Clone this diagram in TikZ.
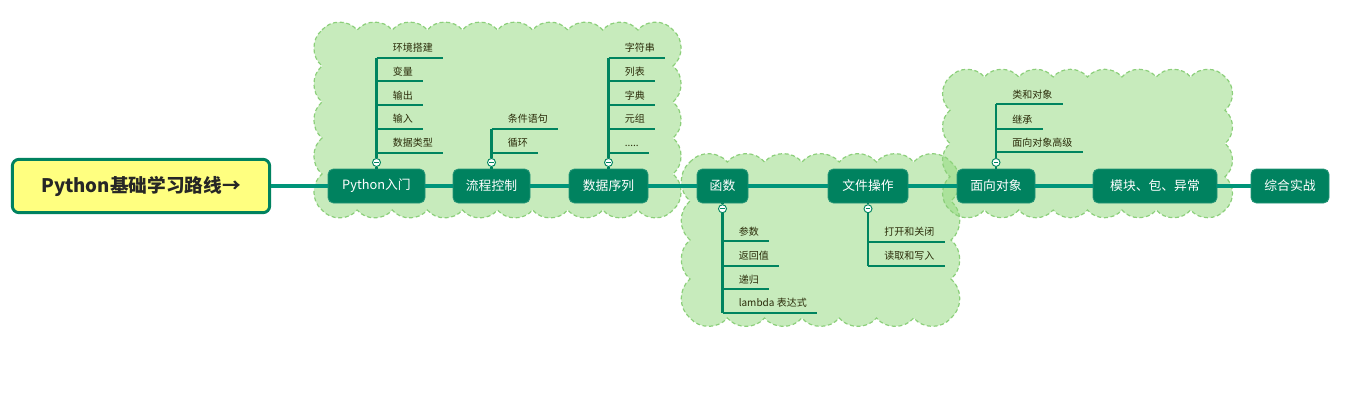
\documentclass[tikz,border=0pt]{standalone}
\usepackage{fontspec}
\setmainfont{Noto Sans CJK SC}
\definecolor{topic}{HTML}{00825F}
\definecolor{mainline}{HTML}{00957A}
\definecolor{branch}{HTML}{00845F}
\definecolor{rootfill}{HTML}{FFFF80}
\definecolor{cloudfill}{HTML}{8FD87A}
\definecolor{cloudline}{HTML}{8CCF7A}
\definecolor{leaftext}{HTML}{2A2A08}
\newcommand\leafitem[4]{%
  \coordinate (#1s) at (#2,#3);
  \node[leaf] (#1) at (#2+16,#3-6) {#4};
  \draw[uline] (#1s) -- ([xshift=7.5pt]#1.east |- #1s);
}
% scalloped boundary: x1,y1,x2,y2,nx,ny
\newcommand\puffcloud[6]{%
  \path[cloudarea] (#1,#2)
    \foreach \i in {1,...,#5} { to[bend left=50] ({#1+(#3-#1)*\i/#5},#2) }
    \foreach \i in {1,...,#6} { to[bend left=50] (#3,{#2+(#4-#2)*\i/#6}) }
    \foreach \i in {1,...,#5} { to[bend left=50] ({#3-(#3-#1)*\i/#5},#4) }
    \foreach \i in {1,...,#6} { to[bend left=50] (#1,{#4-(#4-#2)*\i/#6}) }
    -- cycle;
}
\begin{document}
\begin{tikzpicture}[x=0.75pt,y=-0.75pt,
  topicbox/.style={rectangle, rounded corners=4pt, fill=topic, draw=topic!85!white, line width=0.6pt, text=white, font=\fontsize{9.6pt}{11pt}\selectfont, minimum height=25.5pt, inner sep=0pt},
  rootbox/.style={rectangle, rounded corners=5pt, fill=rootfill, draw=topic, line width=2.2pt, text=black!85, font=\fontsize{14pt}{16pt}\selectfont\bfseries, minimum width=193pt, minimum height=40pt, inner sep=0pt},
  leaf/.style={anchor=base west, inner xsep=0pt, inner ysep=1pt, text=leaftext, font=\fontsize{7.5pt}{9pt}\selectfont},
  cloudarea/.style={fill=cloudfill, fill opacity=0.5, draw=cloudline, dash pattern=on 3pt off 2pt, line width=0.9pt},
  mainln/.style={draw=mainline, line width=2.3pt},
  stem/.style={draw=branch, line width=2pt},
  uline/.style={draw=branch, line width=1.3pt},
  fold/.style={circle, draw=branch, fill=white, line width=0.7pt, minimum size=6pt, inner sep=0pt,
    path picture={\draw[branch, line width=0.6pt] ([xshift=-1.7pt]path picture bounding box.center) -- ([xshift=1.7pt]path picture bounding box.center);}},
]
\useasboundingbox (0,0) rectangle (1351,403);
% clouds
\puffcloud{322}{30}{673}{210}{10}{5}
\puffcloud{690}{162}{951}{318}{7}{4}
\puffcloud{950}{77}{1225}{210}{8}{4}

% root and topics
\node[rootbox] (root) at (141,186) {Python基础学习路线→};
\node[topicbox, minimum width=97*0.75pt] (t1) at (376.5,186) {Python入门};
\node[topicbox, minimum width=77*0.75pt] (t2) at (491.5,186) {流程控制};
\node[topicbox, minimum width=79*0.75pt] (t3) at (608.5,186) {数据序列};
\node[topicbox, minimum width=51*0.75pt] (t4) at (722.5,186) {函数};
\node[topicbox, minimum width=80*0.75pt] (t5) at (868,186) {文件操作};
\node[topicbox, minimum width=78*0.75pt] (t6) at (996,186) {面向对象};
\node[topicbox, minimum width=124*0.75pt] (t7) at (1155,186) {模块、包、异常};
\node[topicbox, minimum width=78*0.75pt] (t8) at (1290,186) {综合实战};

\draw[mainln] (root) -- (t1);
\draw[mainln] (t1) -- (t2);
\draw[mainln] (t2) -- (t3);
\draw[mainln] (t3) -- (t4);
\draw[mainln] (t4) -- (t5);
\draw[mainln] (t5) -- (t6);
\draw[mainln] (t6) -- (t7);
\draw[mainln] (t7) -- (t8);

% Python入门
\leafitem{a1}{376.5}{57.7}{环境搭建}
\leafitem{a2}{376.5}{81}{变量}
\leafitem{a3}{376.5}{105}{输出}
\leafitem{a4}{376.5}{128.7}{输入}
\leafitem{a5}{376.5}{152.7}{数据类型}
\node[fold] (f1) at ([yshift=4.6pt]t1.north) {};
\draw[stem] (f1) -- (a1s);
\draw[stem] (f1) -- (t1);

% 流程控制
\leafitem{b1}{491.5}{128.7}{条件语句}
\leafitem{b2}{491.5}{152.7}{循环}
\node[fold] (f2) at ([yshift=4.6pt]t2.north) {};
\draw[stem] (f2) -- (b1s);
\draw[stem] (f2) -- (t2);

% 数据序列
\leafitem{d1}{608.5}{57.7}{字符串}
\leafitem{d2}{608.5}{81}{列表}
\leafitem{d3}{608.5}{105}{字典}
\leafitem{d4}{608.5}{128.7}{元组}
\leafitem{d5}{608.5}{152.7}{.....}
\node[fold] (f3) at ([yshift=4.6pt]t3.north) {};
\draw[stem] (f3) -- (d1s);
\draw[stem] (f3) -- (t3);

% 函数
\leafitem{e1}{722.5}{241}{参数}
\leafitem{e2}{722.5}{265.7}{返回值}
\leafitem{e3}{722.5}{289}{递归}
\leafitem{e4}{722.5}{312.7}{lambda 表达式}
\node[fold] (f4) at ([yshift=-4pt]t4.south) {};
\draw[stem] (f4) -- (e4s);
\draw[stem] (f4) -- (t4);

% 文件操作
\leafitem{g1}{868}{241.7}{打开和关闭}
\leafitem{g2}{868}{265.7}{读取和写入}
\node[fold] (f5) at ([yshift=-4pt]t5.south) {};
\draw[stem] (f5) -- (g2s);
\draw[stem] (f5) -- (t5);

% 面向对象
\leafitem{h1}{996}{104.3}{类和对象}
\leafitem{h2}{996}{129}{继承}
\leafitem{h3}{996}{152.3}{面向对象高级}
\node[fold] (f6) at ([yshift=4.6pt]t6.north) {};
\draw[stem] (f6) -- (h1s);
\draw[stem] (f6) -- (t6);
\end{tikzpicture}
\end{document}
